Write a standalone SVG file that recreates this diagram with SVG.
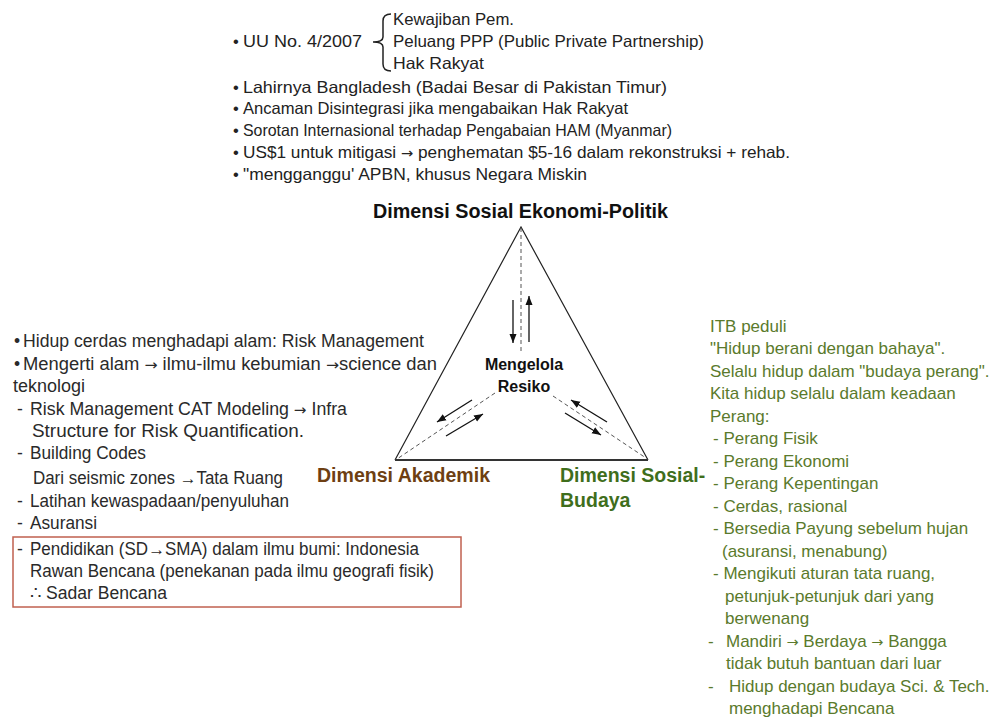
<svg xmlns="http://www.w3.org/2000/svg" width="995" height="725" viewBox="0 0 995 725">
<defs>
<marker id="ah" markerUnits="userSpaceOnUse" markerWidth="10" markerHeight="8" refX="9" refY="4" orient="auto">
<path d="M0,0.5 L9,4 L0,7.5 Z" fill="#111"/>
</marker>
<style>
.t{font-family:"Liberation Sans",Arial,sans-serif;font-size:16.5px;fill:#222}
.l{font-family:"Liberation Sans",Arial,sans-serif;font-size:17.5px;fill:#2a2a2a}
.r{font-family:"Liberation Sans",Arial,sans-serif;font-size:17px;fill:#5a7a2c}
.lab{font-family:"Liberation Sans",Arial,sans-serif;font-weight:bold;font-size:19.5px}
.ctr{font-family:"Liberation Sans",Arial,sans-serif;font-weight:bold;font-size:16px;fill:#111}
.ar{font-family:"DejaVu Sans",sans-serif;font-size:0.85em}
.dash{stroke:#555;stroke-width:1;stroke-dasharray:4 3;fill:none}
.arr{stroke:#111;stroke-width:1.3;fill:none;marker-end:url(#ah)}
</style>
</defs>
<rect width="995" height="725" fill="#fff"/>

<g id="top-notes">
<text class="t" x="233" y="47">•</text>
<text class="t" x="243" y="47" textLength="119" lengthAdjust="spacingAndGlyphs">UU No. 4/2007</text>
<path d="M391,14 Q383,14 383,21 L383,37 Q383,42 373,42 Q383,42 383,47 L383,64 Q383,71 391,71" fill="none" stroke="#222" stroke-width="1.5"/>
<text class="t" x="393" y="25" textLength="121" lengthAdjust="spacingAndGlyphs">Kewajiban Pem.</text>
<text class="t" x="393" y="47" textLength="311" lengthAdjust="spacingAndGlyphs">Peluang PPP (Public Private Partnership)</text>
<text class="t" x="393" y="69" textLength="91" lengthAdjust="spacingAndGlyphs">Hak Rakyat</text>
<text class="t" x="233" y="93">•</text>
<text class="t" x="243" y="93" textLength="424" lengthAdjust="spacingAndGlyphs">Lahirnya Bangladesh (Badai Besar di Pakistan Timur)</text>
<text class="t" x="233" y="114">•</text>
<text class="t" x="243" y="114" textLength="385" lengthAdjust="spacingAndGlyphs">Ancaman Disintegrasi jika mengabaikan Hak Rakyat</text>
<text class="t" x="233" y="136">•</text>
<text class="t" x="243" y="136" textLength="429" lengthAdjust="spacingAndGlyphs">Sorotan Internasional terhadap Pengabaian HAM (Myanmar)</text>
<text class="t" x="233" y="158">•</text>
<text class="t" x="243" y="158" textLength="547" lengthAdjust="spacingAndGlyphs">US$1 untuk mitigasi <tspan class="ar">→</tspan> penghematan $5-16 dalam rekonstruksi + rehab.</text>
<text class="t" x="233" y="180">•</text>
<text class="t" x="243" y="180" textLength="344" lengthAdjust="spacingAndGlyphs">"mengganggu' APBN, khusus Negara Miskin</text>
</g>

<g id="triangle">
<path d="M395,460 L521,227 L648,460" fill="none" stroke="#222" stroke-width="1.2"/>
<line x1="395" y1="460" x2="648" y2="460" stroke="#333" stroke-width="2"/>
</g>

<g id="connectors">
<line class="dash" x1="521" y1="228" x2="521" y2="352"/>
<line class="dash" x1="495" y1="393" x2="397" y2="459"/>
<line class="dash" x1="553" y1="396" x2="646" y2="458"/>
<line class="arr" x1="513" y1="300" x2="513" y2="343"/>
<line class="arr" x1="529" y1="342" x2="529" y2="296"/>
<line class="arr" x1="472" y1="400" x2="437" y2="422"/>
<line class="arr" x1="446" y1="436" x2="483" y2="414"/>
<line class="arr" x1="607" y1="422" x2="571" y2="400"/>
<line class="arr" x1="565" y1="413" x2="601" y2="435"/>
</g>

<g id="node-ekonomi-politik">
<text class="lab" x="373" y="218" fill="#111" textLength="295" lengthAdjust="spacingAndGlyphs">Dimensi Sosial Ekonomi-Politik</text>
</g>

<g id="node-mengelola-resiko">
<text class="ctr" x="524" y="370" text-anchor="middle">Mengelola</text>
<text class="ctr" x="524" y="392" text-anchor="middle">Resiko</text>
</g>

<g id="node-akademik">
<text class="lab" x="317" y="482" fill="#6e3f12" textLength="173" lengthAdjust="spacingAndGlyphs">Dimensi Akademik</text>
</g>

<g id="node-sosial-budaya">
<text class="lab" x="560" y="482" fill="#3f6e1c">Dimensi Sosial-</text>
<text class="lab" x="560" y="507" fill="#3f6e1c">Budaya</text>
</g>

<g id="akademik-notes">
<text class="l" x="14" y="347">•</text>
<text class="l" x="23" y="347" textLength="401" lengthAdjust="spacingAndGlyphs">Hidup cerdas menghadapi alam: Risk Management</text>
<text class="l" x="14" y="370">•</text>
<text class="l" x="23" y="370" textLength="414" lengthAdjust="spacingAndGlyphs">Mengerti alam <tspan class="ar">→</tspan> ilmu-ilmu kebumian <tspan class="ar">→</tspan>science dan</text>
<text class="l" x="13" y="392" textLength="72" lengthAdjust="spacingAndGlyphs">teknologi</text>
<text class="l" x="17" y="415">-</text>
<text class="l" x="30" y="415" textLength="317" lengthAdjust="spacingAndGlyphs">Risk Management CAT Modeling <tspan class="ar">→</tspan> Infra</text>
<text class="l" x="32" y="437" textLength="272" lengthAdjust="spacingAndGlyphs">Structure for Risk Quantification.</text>
<text class="l" x="17" y="459">-</text>
<text class="l" x="30" y="459" textLength="116" lengthAdjust="spacingAndGlyphs">Building Codes</text>
<text class="l" x="33" y="484" textLength="250" lengthAdjust="spacingAndGlyphs">Dari seismic zones →Tata Ruang</text>
<text class="l" x="17" y="507">-</text>
<text class="l" x="30" y="507" textLength="259" lengthAdjust="spacingAndGlyphs">Latihan kewaspadaan/penyuluhan</text>
<text class="l" x="17" y="529">-</text>
<text class="l" x="30" y="529" textLength="67" lengthAdjust="spacingAndGlyphs">Asuransi</text>
<rect x="13" y="537" width="448" height="70" fill="none" stroke="#c0604f" stroke-width="1.5"/>
<text class="l" x="17" y="555">-</text>
<text class="l" x="30" y="555" textLength="389" lengthAdjust="spacingAndGlyphs">Pendidikan (SD→SMA) dalam ilmu bumi: Indonesia</text>
<text class="l" x="30" y="577" textLength="404" lengthAdjust="spacingAndGlyphs">Rawan Bencana (penekanan pada ilmu geografi fisik)</text>
<text class="l" x="30" y="599" textLength="137" lengthAdjust="spacingAndGlyphs">∴ Sadar Bencana</text>
</g>

<g id="budaya-notes">
<text class="r" x="710" y="332">ITB peduli</text>
<text class="r" x="710" y="354">"Hidup berani dengan bahaya".</text>
<text class="r" x="710" y="377">Selalu hidup dalam "budaya perang".</text>
<text class="r" x="710" y="399">Kita hidup selalu dalam keadaan</text>
<text class="r" x="710" y="422">Perang:</text>
<text class="r" x="713" y="444">- Perang Fisik</text>
<text class="r" x="713" y="467">- Perang Ekonomi</text>
<text class="r" x="713" y="489">- Perang Kepentingan</text>
<text class="r" x="713" y="512">- Cerdas, rasional</text>
<text class="r" x="713" y="534">- Bersedia Payung sebelum hujan</text>
<text class="r" x="722" y="557">(asuransi, menabung)</text>
<text class="r" x="713" y="579">- Mengikuti aturan tata ruang,</text>
<text class="r" x="725" y="602">petunjuk-petunjuk dari yang</text>
<text class="r" x="725" y="624">berwenang</text>
<text class="r" x="708" y="647">-</text>
<text class="r" x="726" y="647">Mandiri <tspan class="ar">→</tspan> Berdaya <tspan class="ar">→</tspan> Bangga</text>
<text class="r" x="726" y="669">tidak butuh bantuan dari luar</text>
<text class="r" x="708" y="692">-</text>
<text class="r" x="729" y="692">Hidup dengan budaya Sci. &amp; Tech.</text>
<text class="r" x="729" y="714">menghadapi Bencana</text>
</g>
</svg>
